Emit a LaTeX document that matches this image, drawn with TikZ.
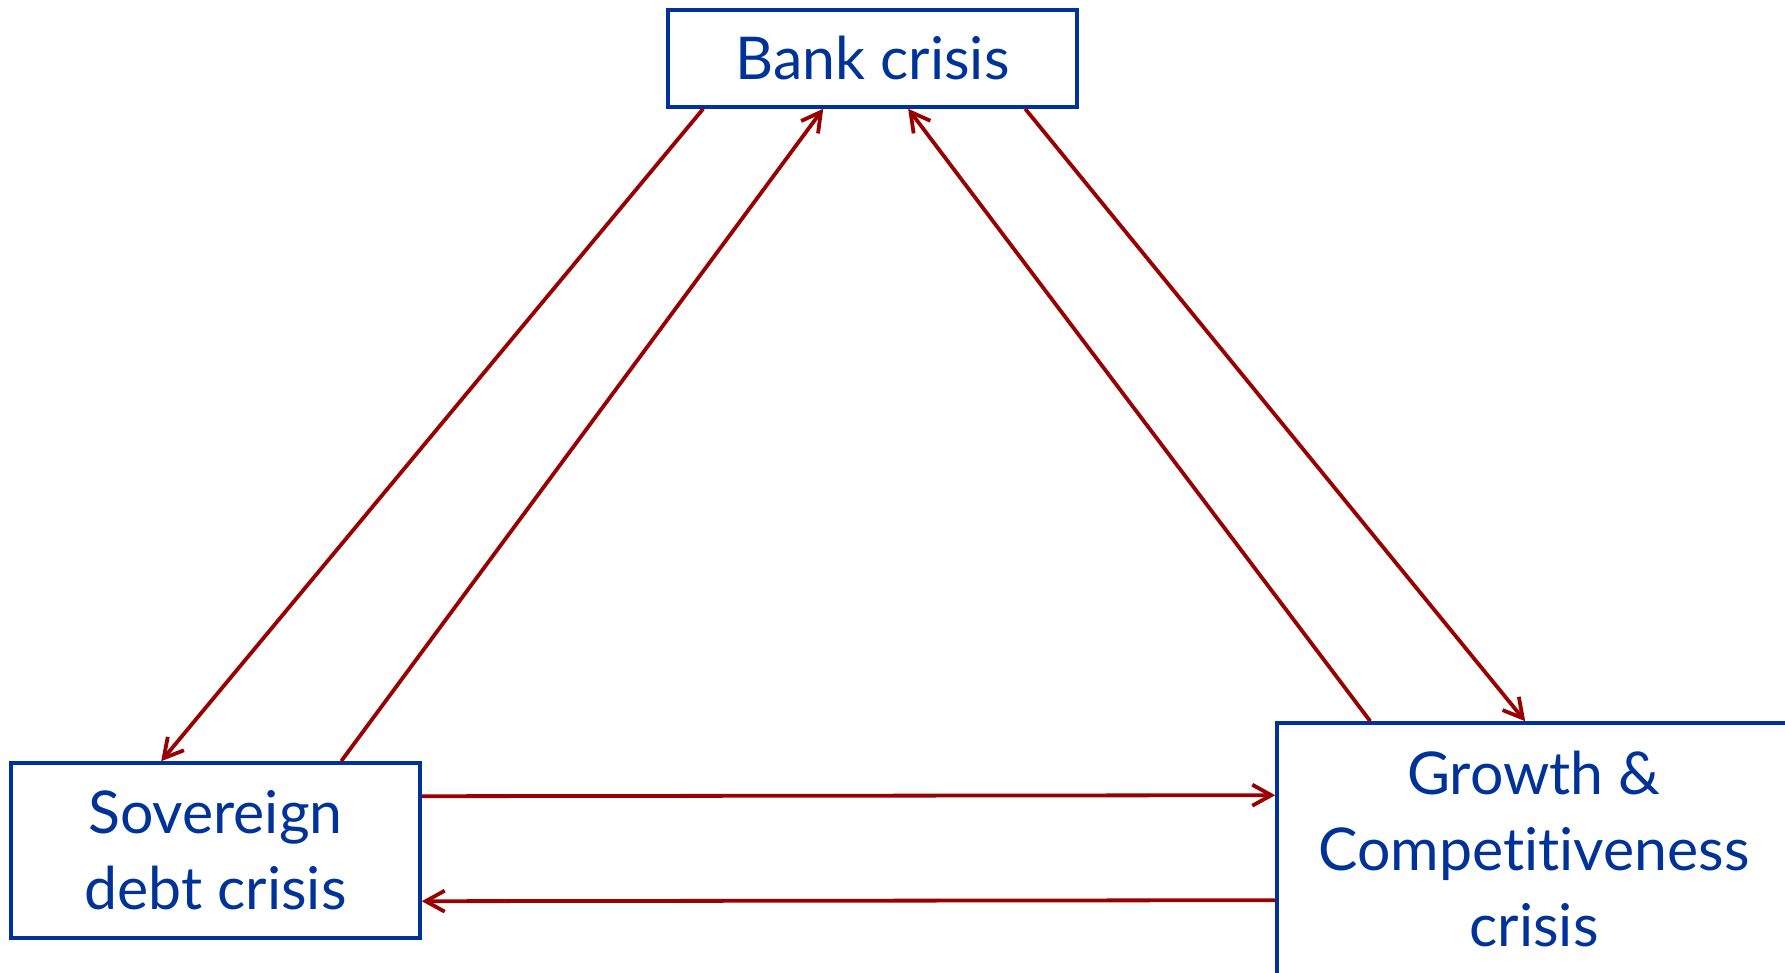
\documentclass[tikz,border=0pt]{standalone}
\usepackage{fontspec}
\setmainfont{Lato}[Ligatures={NoCommon}]
\usetikzlibrary{arrows.meta,calc}
\definecolor{boxblue}{HTML}{003399}
\definecolor{arrred}{HTML}{9A0000}
\begin{document}
\begin{tikzpicture}[x=0.5pt,y=-0.5pt,
  crisisbox/.style={draw=boxblue, line width=1.8pt, text=boxblue, align=center, inner sep=0pt,
    font=\fontsize{29.5}{38}\selectfont},
  crisistext/.style={text=boxblue, align=center, inner sep=0pt, font=\fontsize{29.5}{38}\selectfont},
  link/.style={draw=arrred, line width=1.9pt, -{Straight Barb[length=9.5pt,width=10.5pt]}}]
\useasboundingbox (0,0) rectangle (1785,973);
\fill[white] (0,0) rectangle (1785,973);
\clip (0,0) rectangle (1785,973);
\node[crisisbox, minimum width=204.5pt, minimum height=48.5pt] (bank) at (872.5,58.5) {Bank crisis};
\node[crisisbox, minimum width=204.5pt, minimum height=87.5pt] (sov) at (215.5,850.5) {Sovereign\\debt crisis};
\node[crisisbox, minimum width=286.5pt, minimum height=143.5pt] (growth) at (1563.5,866.5) {};
\node[crisistext] (growthtext) at (1534,849.5) {Growth \&\\Competitiveness\\crisis};
\draw[link] ($(bank.south west)+(37,0)$) -- ($(sov.north west)+(152,0)$);
\draw[link] ($(sov.north west)+(332,0)$) -- ($(bank.south west)+(157,0)$);
\draw[link] ($(growth.north west)+(95,0)$) -- ($(bank.south west)+(242,0)$);
\draw[link] ($(bank.south west)+(359,0)$) -- ($(growth.north west)+(250,0)$);
\draw[link] ($(sov.north east)+(0,35)$) -- ($(growth.north west)+(0,74)$);
\draw[link] ($(growth.north west)+(0,179)$) -- ($(sov.north east)+(0,140)$);
\end{tikzpicture}
\end{document}
